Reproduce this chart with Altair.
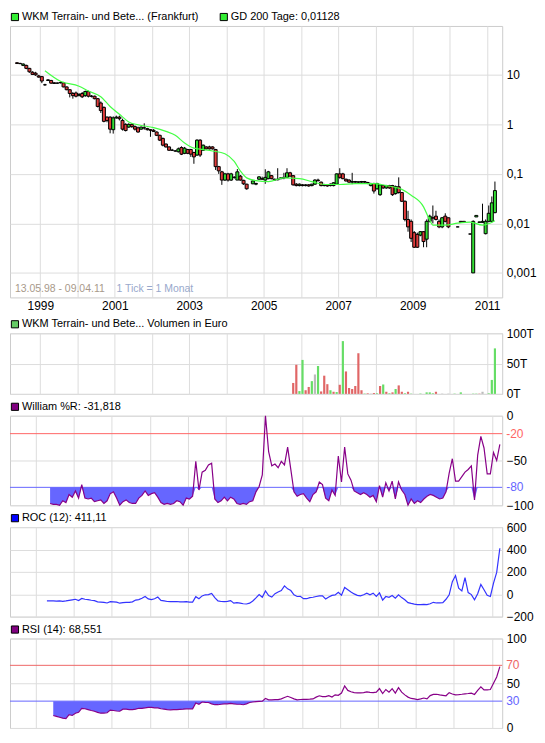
import altair as alt
import pandas as pd

FONT = "Liberation Sans"
W = 495
H_MAIN = 273
H_VOL = 61
H_IND = 90

years = list(range(1999, 2012))

# ---------------- candles (monthly), first month 1998-05, None = no trade ----------------
candle_start = "1998-05"
c_open = [17.5, 17.0, 15.5, 15.5, 13.5, 11.3, 10.8, 9.5,
          9.2, 6.3, 7.7, 7.7, 6.9, 6.8, 7.0, 6.9, 5.7, 5.0, 4.2, 4.3,
          3.8, 4.2, 3.8, 4.6, 3.7, 3.7, 3.3, 2.7, 2.2, 1.4, 1.4, 0.78,
          1.35, 1.4, 1.2, 1.0, 0.88, 1.0, 0.9, 0.85, 0.8, 0.85, 0.82, 0.78,
          0.76, 0.7, 0.6, 0.52, 0.4, 0.35, 0.3, 0.29, 0.28, 0.34, 0.26, 0.31,
          0.31, 0.27, 0.24, 0.48, 0.30, 0.35, 0.35, 0.35, 0.31, 0.14, 0.11, 0.075,
          0.10, 0.075, 0.085, 0.075, 0.09, 0.074, 0.062, None, 0.063, 0.062, 0.078, 0.08,
          0.075, 0.08, 0.092, 0.078, 0.076, 0.08, 0.083, 0.085, 0.105, 0.092, 0.062, 0.058,
          0.06, 0.058, 0.06, 0.058, 0.062, 0.075, 0.068, 0.058, 0.06, 0.058, 0.058, 0.062,
          0.10, 0.10, 0.078, 0.075, 0.068, 0.07, 0.068, 0.068, 0.07, 0.067, 0.058, 0.064,
          0.05, 0.038, 0.058, 0.052, 0.058, 0.058, 0.04, 0.055, 0.042, 0.028, 0.012, 0.011,
          0.0065, 0.006, 0.0058, 0.0068, 0.0048, 0.011, 0.013, 0.014, 0.011, 0.0085, 0.014, 0.013,
          None, None, 0.0085, 0.011, 0.011, None, 0.0061, 0.001, 0.0135, 0.0105, 0.0105, 0.0062,
          0.011, 0.011, 0.0165]
c_high = [18.0, 17.5, 17.0, 16.0, 13.8, 11.8, 11.5, 10.0,
          9.5, 6.6, 8.2, 7.9, 7.1, 7.0, 7.4, 7.2, 5.8, 5.1, 4.5, 4.6,
          4.3, 4.5, 4.8, 4.8, 3.9, 3.8, 3.4, 2.9, 2.3, 1.45, 1.45, 1.45,
          1.5, 1.5, 1.3, 1.05, 1.05, 1.05, 0.95, 0.9, 0.9, 1.05, 0.85, 0.8,
          0.8, 0.72, 0.62, 0.54, 0.41, 0.36, 0.32, 0.3, 0.34, 0.36, 0.35, 0.32,
          0.32, 0.28, 0.5, 0.5, 0.39, 0.36, 0.37, 0.36, 0.32, 0.145, 0.115, 0.105,
          0.105, 0.105, 0.09, 0.125, 0.095, 0.076, 0.063, None, 0.074, 0.066, 0.09, 0.088,
          0.124, 0.115, 0.095, 0.08, 0.13, 0.085, 0.105, 0.13, 0.11, 0.095, 0.065, 0.064,
          0.062, 0.062, 0.062, 0.063, 0.078, 0.08, 0.07, 0.063, 0.062, 0.064, 0.068, 0.102,
          0.13, 0.105, 0.08, 0.078, 0.105, 0.072, 0.07, 0.072, 0.072, 0.069, 0.066, 0.066,
          0.066, 0.062, 0.06, 0.06, 0.06, 0.06, 0.058, 0.085, 0.043, 0.029, 0.018, 0.012,
          0.007, 0.0065, 0.007, 0.007, 0.012, 0.015, 0.023, 0.018, 0.012, 0.0135, 0.016, 0.013,
          None, None, 0.0086, 0.0112, 0.0112, None, 0.0062, 0.0115, 0.0145, 0.0108, 0.025, 0.012,
          0.023, 0.035, 0.07]
c_low = [16.5, 16.5, 15.0, 13.0, 11.0, 10.0, 9.5, 8.8,
         6.8, 6.0, 7.5, 6.6, 6.6, 6.6, 6.7, 5.6, 4.9, 3.5, 3.3, 3.5,
         3.7, 3.4, 3.6, 3.5, 3.5, 3.2, 2.2, 1.7, 1.1, 1.1, 0.66, 0.65,
         1.3, 1.2, 0.75, 0.72, 0.85, 0.85, 0.75, 0.68, 0.78, 0.78, 0.75, 0.56,
         0.7, 0.58, 0.46, 0.36, 0.34, 0.29, 0.29, 0.28, 0.27, 0.24, 0.25, 0.25,
         0.22, 0.16, 0.23, 0.22, 0.29, 0.31, 0.31, 0.31, 0.12, 0.10, 0.06, 0.072,
         0.07, 0.072, 0.08, 0.075, 0.073, 0.06, 0.048, None, 0.062, 0.059, 0.076, 0.076,
         0.063, 0.078, 0.078, 0.072, 0.074, 0.078, 0.078, 0.082, 0.088, 0.058, 0.056, 0.056,
         0.056, 0.056, 0.055, 0.056, 0.06, 0.07, 0.056, 0.056, 0.055, 0.056, 0.056, 0.06,
         0.08, 0.078, 0.07, 0.066, 0.062, 0.066, 0.065, 0.066, 0.066, 0.062, 0.056, 0.04,
         0.048, 0.036, 0.05, 0.05, 0.05, 0.036, 0.038, 0.04, 0.027, 0.011, 0.0068, 0.0042,
         0.0032, 0.0032, 0.0055, 0.0033, 0.0033, 0.0105, 0.01, 0.0115, 0.008, 0.008, 0.0105, 0.008,
         None, None, 0.0084, 0.0104, 0.0104, None, 0.006, 0.001, 0.0135, 0.0104, 0.0103, 0.006,
         0.0105, 0.0105, 0.016]
c_close = [17.0, 16.8, 16.5, 13.5, 11.5, 10.2, 10.0, 9.0,
           7.5, 6.3, 7.9, 6.8, 6.7, 6.8, 6.9, 5.7, 5.0, 4.2, 3.8, 3.7,
           4.0, 3.6, 4.6, 3.7, 3.7, 3.3, 2.3, 1.9, 1.15, 1.2, 0.8, 1.35,
           1.4, 1.3, 0.8, 0.75, 1.0, 0.9, 0.8, 0.7, 0.88, 0.85, 0.78, 0.76,
           0.72, 0.6, 0.48, 0.38, 0.35, 0.3, 0.3, 0.29, 0.32, 0.25, 0.33, 0.26,
           0.25, 0.22, 0.48, 0.24, 0.38, 0.32, 0.32, 0.32, 0.14, 0.115, 0.075, 0.10,
           0.075, 0.10, 0.085, 0.11, 0.075, 0.063, 0.05, None, 0.072, 0.064, 0.087, 0.078,
           0.085, 0.11, 0.08, 0.075, 0.078, 0.083, 0.085, 0.105, 0.09, 0.06, 0.058, 0.062,
           0.058, 0.06, 0.057, 0.062, 0.075, 0.073, 0.058, 0.06, 0.057, 0.062, 0.066, 0.10,
           0.085, 0.08, 0.072, 0.068, 0.07, 0.068, 0.069, 0.07, 0.068, 0.064, 0.064, 0.045,
           0.064, 0.06, 0.052, 0.058, 0.052, 0.038, 0.055, 0.042, 0.028, 0.012, 0.0085, 0.005,
           0.0033, 0.0033, 0.0068, 0.0043, 0.011, 0.014, 0.0128, 0.012, 0.0085, 0.013, 0.011, 0.0085,
           None, None, 0.0085, 0.0105, 0.0105, None, 0.0061, 0.011, 0.0145, 0.0107, 0.011, 0.011,
           0.016, 0.026, 0.046]

# ---------------- GD 200 (moving average) ----------------
ma_month = ["1999-02", "1999-07", "2000-01", "2000-04", "2000-08", "2000-11", "2001-02",
            "2001-05", "2001-08", "2002-01", "2002-05", "2002-08", "2002-11", "2003-02",
            "2003-05", "2003-08", "2003-12", "2004-03", "2004-05", "2004-07", "2004-10",
            "2005-02", "2005-07", "2005-12", "2006-04", "2006-08", "2007-01", "2007-06",
            "2007-12", "2008-04", "2008-09", "2008-12", "2009-04", "2009-06", "2009-07",
            "2009-11", "2010-03", "2010-07", "2010-11", "2011-03"]
ma_value = [12.1, 7.4, 5.9, 4.7, 3.6, 2.3, 1.6, 1.12, 0.98, 0.86, 0.72, 0.60, 0.42, 0.33,
            0.31, 0.29, 0.255, 0.178, 0.114, 0.083, 0.073, 0.070, 0.083, 0.080, 0.070, 0.061,
            0.061, 0.0636, 0.0636, 0.058, 0.0486, 0.037, 0.0216, 0.0115, 0.0092, 0.0092,
            0.0101, 0.0106, 0.0092, 0.0113]

# ---------------- volume (thousand euro), first month 2005-10 ----------------
vol_start = "2005-10"
vol_value = [18, 48, 4.6, 56, 6, 11.4, 21, 32, 46, 4, 30, 16, 6, 3.5, 3, 15, 87, 37, 9.7, 8,
             13, 67, 6, 0.6, 1, 0.5, 1.5, 1, 13, 15.5, 3.5, 1, 2.5, 8, 14, 3.5, 1, 3.5, 0.5,
             0, 0, 0.6, 0, 2.5, 2.5, 1, 3.5, 0, 0.5, 0, 0.5, 0, 0.5, 0, 2.5, 0, 0, 0, 0.5,
             0.5, 0.5, 3.5, 0, 1, 23, 75]
vol_dir = ["d", "d", "u", "u", "d", "d", "u", "n", "u", "d", "d", "d", "u", "d", "u", "d",
           "u", "d", "d", "d", "d", "d", "d", "u", "d", "n", "d", "u", "d", "u", "d", "u",
           "d", "u", "d", "d", "u", "d", "u", "n", "n", "u", "n", "u", "u", "u", "d", "n",
           "n", "n", "n", "n", "u", "n", "u", "n", "n", "n", "u", "u", "d", "n", "n", "u",
           "u", "u"]

# ---------------- William %R, first month 1999-05 ----------------
wr_start = "1999-05"
wr_value = [-98, -99, -99, -100, -95, -97, -88, -91, -84, -92, -77, -92, -93, -92, -96, -95,
            -94, -98, -95, -87, -85, -92, -100, -96, -94, -97, -98, -98, -92, -89, -84, -89,
            -87, -86, -91, -97, -99, -98, -99, -98, -95, -96, -100, -92, -93, -90, -51, -83,
            -63, -61, -55, -53, -93, -97, -95, -91, -95, -91, -93, -98, -99, -98, -99, -96,
            -95, -85, -79, -66, 0, -40, -56, -54, -58, -51, -55, -35, -60, -85, -90, -88,
            -87, -92, -96, -88, -85, -74, -77, -92, -95, -83, -89, -45, -74, -35, -65, -72,
            -84, -86, -88, -86, -88, -91, -89, -96, -78, -91, -75, -84, -73, -93, -74, -83,
            -88, -100, -93, -98, -95, -97, -93, -90, -88, -89, -91, -93, -92, -85, -64, -48,
            -73, -73, -68, -63, -60, -56, -94, -44, -23, -36, -65, -65, -41, -50, -32]

# ---------------- ROC (12), first month 1999-04 ----------------
roc_start = "1999-04"
roc_value = [-60, -60, -60, -62, -60, -63, -60, -55, -50, -45, -57, -38, -45, -48, -54, -57,
             -68, -70, -72, -78, -66, -68, -70, -80, -75, -73, -72, -68, -52, -48, -36, -20,
             -42, -48, -40, -25, -55, -60, -65, -66, -66, -65, -68, -68, -66, -70, -70, -22,
             -40, -15, -5, -3, 8, -30, -60, -65, -66, -64, -57, -80, -75, -80, -85, -87,
             -80, -60, -33, -3, -27, 30, -12, -25, 5, 20, 33, 75, 48, 33, -5, -20,
             -18, -40, -40, -30, -27, -20, -15, -15, -42, -25, -10, -6, 18, -8, 60, 40,
             20, 3, -10, -15, -5, 10, -5, 10, -20, 12, -52, -20, -27, -12, -36, -5,
             -30, -50, -75, -82, -88, -93, -93, -90, -93, -85, -72, -78, -78, -75, -45, -5,
             113, 167, 54, 30, 149, 15, -3, -50, 5, 87, 40, -10, -20, 100, 195, 411]

# ---------------- RSI (14), first month 1999-06 ----------------
rsi_start = "1999-06"
rsi_value = [14, 13, 12, 11, 10.4, 15, 14, 16.5, 17.5, 22, 21.5, 20.5, 19.5, 18.7, 17.5, 16.5,
             16.7, 17, 20, 19.5, 19, 18.7, 21, 21, 20.5, 20.5, 21, 22, 22, 22.5, 23, 23,
             22.5, 22.5, 21.5, 21, 20.5, 20.3, 20.5, 20.6, 20.8, 21, 21.4, 21.4, 21.4, 28,
             26.5, 29, 28.6, 28.5, 27, 26, 26, 26.5, 27, 27, 27.5, 27, 26.5, 26.5, 26, 27,
             28.5, 29, 29.5, 29.8, 30, 33, 31.5, 31.5, 31.7, 31.7, 32.5, 34, 35.4, 34, 32.5,
             31.5, 31.8, 32, 32, 32.2, 32.5, 34.5, 36, 35, 35, 36.2, 34.5, 37, 36.5, 39, 47,
             42, 40.5, 39.5, 39.3, 39.2, 39.5, 40.3, 39.8, 39.5, 40, 44, 38.5, 43, 40, 44,
             39, 45, 40, 37, 34.5, 33, 32.5, 31.8, 32.5, 33.5, 32.5, 36.2, 37.5, 37.7, 37,
             36.5, 36, 39.5, 38, 37, 37.3, 37.7, 38.2, 38.5, 39, 37.5, 42, 46, 42.5, 42.5,
             43, 50, 57, 68.6]


def month_positions(start, n):
    y, m = map(int, start.split("-"))
    base = y * 12 + (m - 1)
    return [(base + i) // 12 + (((base + i) % 12) + 0.5) / 12 for i in range(n)]


def month_pos(label):
    return month_positions(label, 1)[0]


# ---------------- frames ----------------
cdf = pd.DataFrame({
    "t": month_positions(candle_start, len(c_open)),
    "open": c_open, "high": c_high, "low": c_low, "close": c_close,
}).dropna()
cdf["dir"] = ["up" if c >= o else "down" for o, c in zip(cdf["open"], cdf["close"])]

madf = pd.DataFrame({"t": [month_pos(m) for m in ma_month], "v": ma_value})

vdf = pd.DataFrame({"t": month_positions(vol_start, len(vol_value)), "v": vol_value, "dir": vol_dir})
vdf = vdf[vdf["v"] > 0]

wdf = pd.DataFrame({"t": month_positions(wr_start, len(wr_value)), "v": wr_value})
wdf["clip"] = wdf["v"].clip(upper=-80)
wdf["base"] = -80

rdf = pd.DataFrame({"t": month_positions(roc_start, len(roc_value)), "v": roc_value})

sdf = pd.DataFrame({"t": month_positions(rsi_start, len(rsi_value)), "v": rsi_value})
sdf["clip"] = sdf["v"].clip(upper=30)
sdf["base"] = 30

one = pd.DataFrame({"k": [0]})

xscale = alt.Scale(domain=[1998.32, 2011.27], nice=False, zero=False)


def xenc(labels=False):
    ax = alt.Axis(values=years, grid=True, ticks=False, domain=False, title=None, labels=labels,
                  labelExpr="datum.value % 2 == 1 ? toString(datum.value) : ''",
                  labelPadding=3, labelOverlap=False, labelFlush=False)
    return alt.X("t:Q", scale=xscale, axis=ax)


def yaxis(values, expr=None):
    kw = dict(values=values, orient="right", ticks=False, domain=False, title=None, grid=True,
              labelPadding=4, labelFlush=False, labelOverlap=False)
    if expr:
        kw["labelExpr"] = expr
    return alt.Axis(**kw)


def header(items, yv=-9):
    layers = []
    for xo, label, col in items:
        layers.append(alt.Chart(one).mark_square(size=52, color=col, opacity=1, stroke="black",
                                                 strokeWidth=1).encode(x=alt.value(xo), y=alt.value(yv)))
        layers.append(alt.Chart(one).mark_text(align="left", baseline="middle", fontSize=11,
                                               font=FONT, color="#000000").encode(
            x=alt.value(xo + 7), y=alt.value(yv), text=alt.value(label)))
    return layers


def level(value, color, scale, axis):
    """Coloured reference line plus its coloured label on the right axis."""
    rule = alt.Chart(one).mark_rule(stroke=color, strokeWidth=1, strokeOpacity=1, opacity=1).encode(
        x=alt.value(0), x2=alt.value(W),
        y=alt.Y(datum=value, scale=scale, axis=axis))
    lab = alt.Chart(one).mark_text(align="left", baseline="middle", fontSize=12, font=FONT,
                                   color=color).encode(
        x=alt.value(W + 4), y=alt.Y(datum=value, scale=scale, axis=axis), text=alt.value(str(value)))
    return [rule, lab]


# ---------------- main price panel ----------------
ymain = alt.Scale(type="log", domain=[0.00032, 97], nice=False)
main_axis = yaxis([0.001, 0.01, 0.1, 1, 10],
                  expr="datum.value >= 1 ? format(datum.value, 'd') : replace(format(datum.value, '~g'), '.', ',')")

wicks = alt.Chart(cdf).mark_rule(color="black", strokeWidth=1).encode(
    x=xenc(True), y=alt.Y("low:Q", scale=ymain, axis=main_axis), y2="high:Q")
bodies = alt.Chart(cdf).mark_bar(size=3, stroke="black", strokeWidth=1).encode(
    x=xenc(True), y=alt.Y("open:Q", scale=ymain, axis=main_axis), y2="close:Q",
    fill=alt.Fill("dir:N", scale=alt.Scale(domain=["up", "down"], range=["#33dd33", "#e23c3c"]), legend=None))
ma_line = alt.Chart(madf).mark_line(color="#44ff44", strokeWidth=1.2, interpolate="monotone").encode(
    x=xenc(True), y=alt.Y("v:Q", scale=ymain, axis=main_axis))
range_txt = alt.Chart(one).mark_text(align="left", baseline="middle", fontSize=10.5, font=FONT,
                                     color="#a8998a").encode(
    x=alt.value(5), y=alt.value(H_MAIN - 8), text=alt.value("13.05.98 - 09.04.11"))
tick_txt = alt.Chart(one).mark_text(align="left", baseline="middle", fontSize=10.5, font=FONT,
                                    color="#98a8cc").encode(
    x=alt.value(107), y=alt.value(H_MAIN - 8), text=alt.value("1 Tick = 1 Monat"))

main = alt.layer(
    wicks, bodies, ma_line, range_txt, tick_txt,
    *header([(5, "WKM Terrain- und Bete... (Frankfurt)", "#33ee33"),
             (215, "GD 200 Tage: 0,01128", "#33ee33")])
).properties(width=W, height=H_MAIN)

# ---------------- volume panel ----------------
vol = alt.layer(
    alt.Chart(vdf).mark_bar(size=2.2).encode(
        x=xenc(),
        y=alt.Y("v:Q", scale=alt.Scale(domain=[0, 100], nice=False),
                axis=yaxis([0, 50, 100], expr="datum.value + 'T'")),
        color=alt.Color("dir:N", scale=alt.Scale(domain=["u", "d", "n"],
                                                 range=["#66dd66", "#e06666", "#bbbbbb"]), legend=None)),
    *header([(5, "WKM Terrain- und Bete... Volumen in Euro", "#66cc66")])
).properties(width=W, height=H_VOL)

# ---------------- William %R ----------------
wscale = alt.Scale(domain=[-100, 0], nice=False)
w_axis = yaxis([-100, -50, 0])
wr = alt.layer(
    alt.Chart(wdf).mark_area(color="#6666ff", opacity=1).encode(
        x=xenc(), y=alt.Y("clip:Q", scale=wscale, axis=w_axis), y2="base:Q"),
    *level(-20, "#ff6666", wscale, w_axis),
    *level(-80, "#6666ff", wscale, w_axis),
    alt.Chart(wdf).mark_line(color="#880088", strokeWidth=1.2).encode(
        x=xenc(), y=alt.Y("v:Q", scale=wscale, axis=w_axis)),
    *header([(5, "William %R: -31,818", "#800080")])
).properties(width=W, height=H_IND)

# ---------------- ROC ----------------
rscale = alt.Scale(domain=[-200, 600], nice=False)
roc = alt.layer(
    alt.Chart(rdf).mark_line(color="#3333ff", strokeWidth=1.2).encode(
        x=xenc(), y=alt.Y("v:Q", scale=rscale, axis=yaxis([-200, 0, 200, 400, 600]))),
    *header([(5, "ROC (12): 411,11", "#0000ff")])
).properties(width=W, height=H_IND)

# ---------------- RSI ----------------
sscale = alt.Scale(domain=[0, 100], nice=False)
s_axis = yaxis([0, 50, 100])
rsi = alt.layer(
    alt.Chart(sdf).mark_area(color="#6666ff", opacity=1).encode(
        x=xenc(), y=alt.Y("clip:Q", scale=sscale, axis=s_axis), y2="base:Q"),
    *level(70, "#ee6666", sscale, s_axis),
    *level(30, "#6666ff", sscale, s_axis),
    alt.Chart(sdf).mark_line(color="#880088", strokeWidth=1.2).encode(
        x=xenc(), y=alt.Y("v:Q", scale=sscale, axis=s_axis)),
    *header([(5, "RSI (14): 68,551", "#800080")])
).properties(width=W, height=H_IND)

lower = alt.vconcat(vol, wr, roc, rsi, spacing=22, bounds="flush")
chart = alt.vconcat(main, lower, spacing=36, bounds="flush").properties(
    padding={"left": 0, "top": 0, "right": 0, "bottom": 0}
).configure_view(stroke="#cccccc").configure_axis(
    gridColor="#dddddd", labelFont=FONT, labelFontSize=12, labelColor="#000000"
)

chart.save("out.html", embed_options={"renderer": "svg", "actions": False})
